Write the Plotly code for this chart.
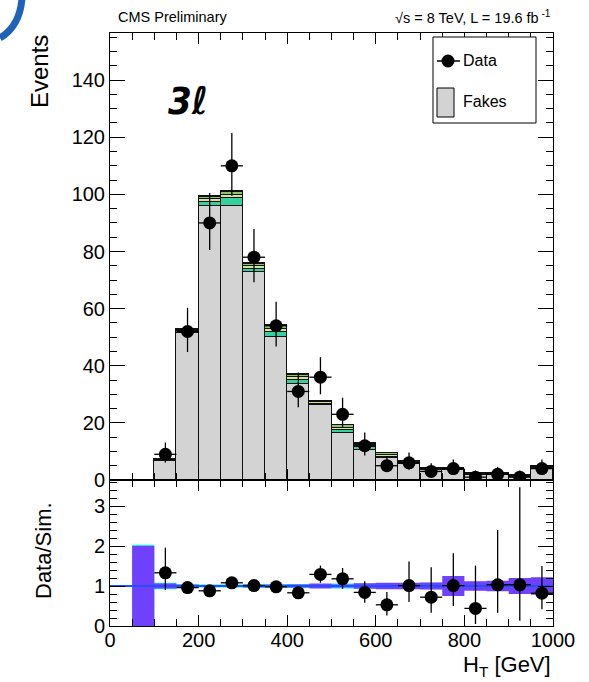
import plotly.graph_objects as go

# ---------------- data ----------------
bin_lo = [100, 150, 200, 250, 300, 350, 400, 450, 500, 550, 600, 650, 700, 750, 800, 850, 900, 950]
bin_width = 50
fakes = [6.5, 51.5, 96.0, 95.8, 72.8, 50.2, 33.6, 26.2, 16.3, 10.6, 7.6, 5.5, 3.5, 3.5, 1.8, 1.8, 1.2, 4.2]
teal = [0.4, 0.6, 1.4, 3.1, 1.2, 1.6, 1.4, 0.4, 1.2, 0.9, 0.6, 0.4, 0.3, 0.3, 0.3, 0.2, 0.2, 0.3]
lgreen = [0.3, 0.4, 0.9, 1.0, 0.8, 1.0, 0.9, 0.6, 0.8, 0.6, 0.5, 0.3, 0.2, 0.2, 0.2, 0.1, 0.1, 0.2]
green = [0.2, 0.4, 0.9, 1.0, 0.8, 1.2, 1.0, 0.5, 0.9, 0.6, 0.6, 0.2, 0.2, 0.2, 0.2, 0.1, 0.1, 0.1]
red = [0.1, 0.1, 0.2, 0.3, 0.5, 0.3, 0.2, 0.1, 0.2, 0.2, 0.2, 0.1, 0.0, 0.1, 0.1, 0.1, 0.0, 0.1]

data_x = [125, 175, 225, 275, 325, 375, 425, 475, 525, 575, 625, 675, 725, 775, 825, 875, 925, 975]
data_y = [9, 52, 90, 110, 78, 54, 31, 36, 23, 12, 5, 6, 3, 4, 1, 2, 1, 4]
data_up = [4.1, 8.3, 10.5, 11.5, 9.9, 8.4, 6.6, 7.0, 5.8, 4.6, 3.4, 3.6, 2.9, 3.2, 2.3, 2.6, 2.3, 3.2]
data_dn = [2.9, 7.2, 9.5, 10.5, 8.8, 7.3, 5.5, 6.0, 4.8, 3.4, 2.2, 2.4, 1.6, 1.9, 0.8, 1.3, 0.8, 1.9]

ratio_y = [1.33, 0.96, 0.88, 1.08, 1.01, 0.98, 0.83, 1.29, 1.18, 0.84, 0.53, 1.01, 0.72, 1.01, 0.44, 1.03, 1.03, 0.82]
ratio_up = [0.63, 0.14, 0.11, 0.11, 0.12, 0.14, 0.15, 0.22, 0.27, 0.28, 0.32, 0.60, 0.75, 0.81, 1.07, 1.37, 2.44, 0.68]
ratio_dn = [0.43, 0.13, 0.10, 0.10, 0.11, 0.13, 0.14, 0.21, 0.25, 0.26, 0.27, 0.41, 0.39, 0.51, 0.39, 0.70, 0.90, 0.40]

band_lo = [50, 100, 150, 200, 250, 300, 350, 400, 450, 500, 550, 600, 650, 700, 750, 800, 850, 900, 950]
band_purple = [1.00, 0.06, 0.03, 0.02, 0.02, 0.03, 0.03, 0.04, 0.06, 0.04, 0.07, 0.08, 0.08, 0.09, 0.25, 0.12, 0.13, 0.20, 0.22]
band_cyan = [1.03, 0.08, 0.05, 0.04, 0.04, 0.05, 0.05, 0.05, 0.05, 0.06, 0.06, 0.06, 0.07, 0.08, 0.08, 0.08, 0.08, 0.08, 0.08]

x_ticks = [0, 200, 400, 600, 800, 1000]

# ---------------- geometry ----------------
W, H = 589, 682
ML, MR, MT, MB = 110, 36, 33, 56
PW, PH = W - ML - MR, H - MT - MB
split_px = 480
split = (H - MB - split_px) / PH

def px(x, y):
    return (x - ML) / PW, (H - MB - y) / PH

fig = go.Figure()

centers = [lo + bin_width / 2 for lo in bin_lo]
for vals, col, nm in [(fakes, "#d3d3d3", "Fakes"), (teal, "#36cf9f", "t"),
                      (lgreen, "#cfe69a", "lg"), (green, "#8fc46a", "g"), (red, "#a33a10", "r")]:
    fig.add_trace(go.Bar(x=centers, y=vals, width=bin_width, marker=dict(color=col, line=dict(color="#111111", width=1)),
                         xaxis="x", yaxis="y", showlegend=False, name=nm))

fig.add_trace(go.Scatter(x=data_x, y=data_y, mode="markers", xaxis="x", yaxis="y",
                         marker=dict(color="black", size=13),
                         error_y=dict(type="data", array=data_up, arrayminus=data_dn, color="black", thickness=1.3, width=0),
                         error_x=dict(type="constant", value=bin_width / 2, color="black", thickness=1.3, width=0),
                         showlegend=False))

def band_path(lows, halves):
    xs, ys = [], []
    for lo, h in zip(lows, halves):
        xs += [lo, lo + bin_width, lo + bin_width, lo, lo, None]
        ys += [1 - h, 1 - h, 1 + h, 1 + h, 1 - h, None]
    return xs, ys

for halves, col in [(band_cyan, "#22e8f0"), (band_purple, "#7040ff")]:
    bx, by = band_path(band_lo, halves)
    fig.add_trace(go.Scatter(x=bx, y=by, mode="lines", fill="toself", fillcolor=col,
                             line=dict(width=0, color=col), xaxis="x2", yaxis="y2", showlegend=False, hoverinfo="skip"))

fig.add_trace(go.Scatter(x=[0, 1000], y=[1, 1], mode="lines", line=dict(color="#1f4fff", width=2),
                         xaxis="x2", yaxis="y2", showlegend=False))

fig.add_trace(go.Scatter(x=data_x, y=ratio_y, mode="markers", xaxis="x2", yaxis="y2",
                         marker=dict(color="black", size=13),
                         error_y=dict(type="data", array=ratio_up, arrayminus=ratio_dn, color="black", thickness=1.3, width=0),
                         error_x=dict(type="constant", value=bin_width / 2, color="black", thickness=1.3, width=0),
                         showlegend=False))

font = "Liberation Sans, Arial, sans-serif"
axis_common = dict(showline=True, linecolor="black", linewidth=1, mirror="allticks", ticks="inside",
                   tickcolor="black", showgrid=False, zeroline=False, tickfont=dict(family=font, size=20, color="black"))

fig.update_layout(
    width=W, height=H, margin=dict(l=ML, r=MR, t=MT, b=MB),
    paper_bgcolor="white", plot_bgcolor="white", barmode="stack", bargap=0,
    showlegend=False,
    xaxis=dict(range=[0, 1000], domain=[0, 1], anchor="y", showticklabels=False, tickvals=x_ticks,
               ticklen=11, minor=dict(dtick=50, ticklen=7, ticks="inside", tickcolor="black"), **axis_common),
    yaxis=dict(range=[0, 156.5], domain=[split, 1], anchor="x", dtick=20, ticklen=15,
               minor=dict(dtick=5, ticklen=7, ticks="inside", tickcolor="black"), **axis_common),
    xaxis2=dict(range=[0, 1000], domain=[0, 1], anchor="y2", tickvals=x_ticks, ticklen=11, ticklabelstandoff=-4,
                minor=dict(dtick=50, ticklen=7, ticks="inside", tickcolor="black"), **axis_common),
    yaxis2=dict(range=[0, 3.65], domain=[0, split], anchor="x2", dtick=1, ticklen=15,
                minor=dict(dtick=0.2, ticklen=7, ticks="inside", tickcolor="black"), **axis_common),
)

ann = []
def text(x, y, s, size, xanchor="left", yanchor="middle", angle=0, fam=font, color="black"):
    xp, yp = px(x, y)
    ann.append(dict(x=xp, y=yp, xref="paper", yref="paper", text=s, showarrow=False, xanchor=xanchor,
                    yanchor=yanchor, textangle=angle, font=dict(family=fam, size=size, color=color)))

text(116, 17, "CMS Preliminary", 14.5)
text(553, 17, "√s = 8 TeV, L = 19.6 fb<sup> -1</sup>", 14.5, xanchor="right")
text(40, 72, "Events", 24, xanchor="center", angle=-90)
text(43, 551, "Data/Sim.", 22, xanchor="center", angle=-90)
text(553, 666, "H<sub>T</sub> [GeV]", 22, xanchor="right")
text(166, 101, "<b><i>3ℓ</i></b>", 38, fam="DejaVu Sans Condensed, DejaVu Sans")
text(461, 61, "Data", 16)
text(461, 102, "Fakes", 16)
fig.update_layout(annotations=ann)

shapes = []
def rect(x0, y0, x1, y1, fill, lw=1):
    a0, b0 = px(x0, y0); a1, b1 = px(x1, y1)
    shapes.append(dict(type="rect", xref="paper", yref="paper", x0=a0, y0=b0, x1=a1, y1=b1,
                       fillcolor=fill, line=dict(color="black", width=lw)))

rect(433, 37, 536, 123, "white")
rect(437, 88, 454, 117, "#d3d3d3")
l0 = px(437, 61); l1 = px(460, 61)
shapes.append(dict(type="line", xref="paper", yref="paper", x0=l0[0], y0=l0[1], x1=l1[0], y1=l1[1],
                   line=dict(color="black", width=1.5)))
c0 = px(441.5, 54.5); c1 = px(454.5, 67.5)
shapes.append(dict(type="circle", xref="paper", yref="paper", x0=c0[0], y0=c0[1], x1=c1[0], y1=c1[1],
                   fillcolor="black", line=dict(color="black", width=0)))
# partial logo arc in the top-left corner
p = [px(22, -2), px(20, 26), px(0, 38)]
shapes.append(dict(type="path", xref="paper", yref="paper",
                   path=f"M {p[0][0]},{p[0][1]} Q {p[1][0]},{p[1][1]} {p[2][0]},{p[2][1]}",
                   line=dict(color="#1f63b8", width=7)))
fig.update_layout(shapes=shapes)

fig.write_html("out.html")
